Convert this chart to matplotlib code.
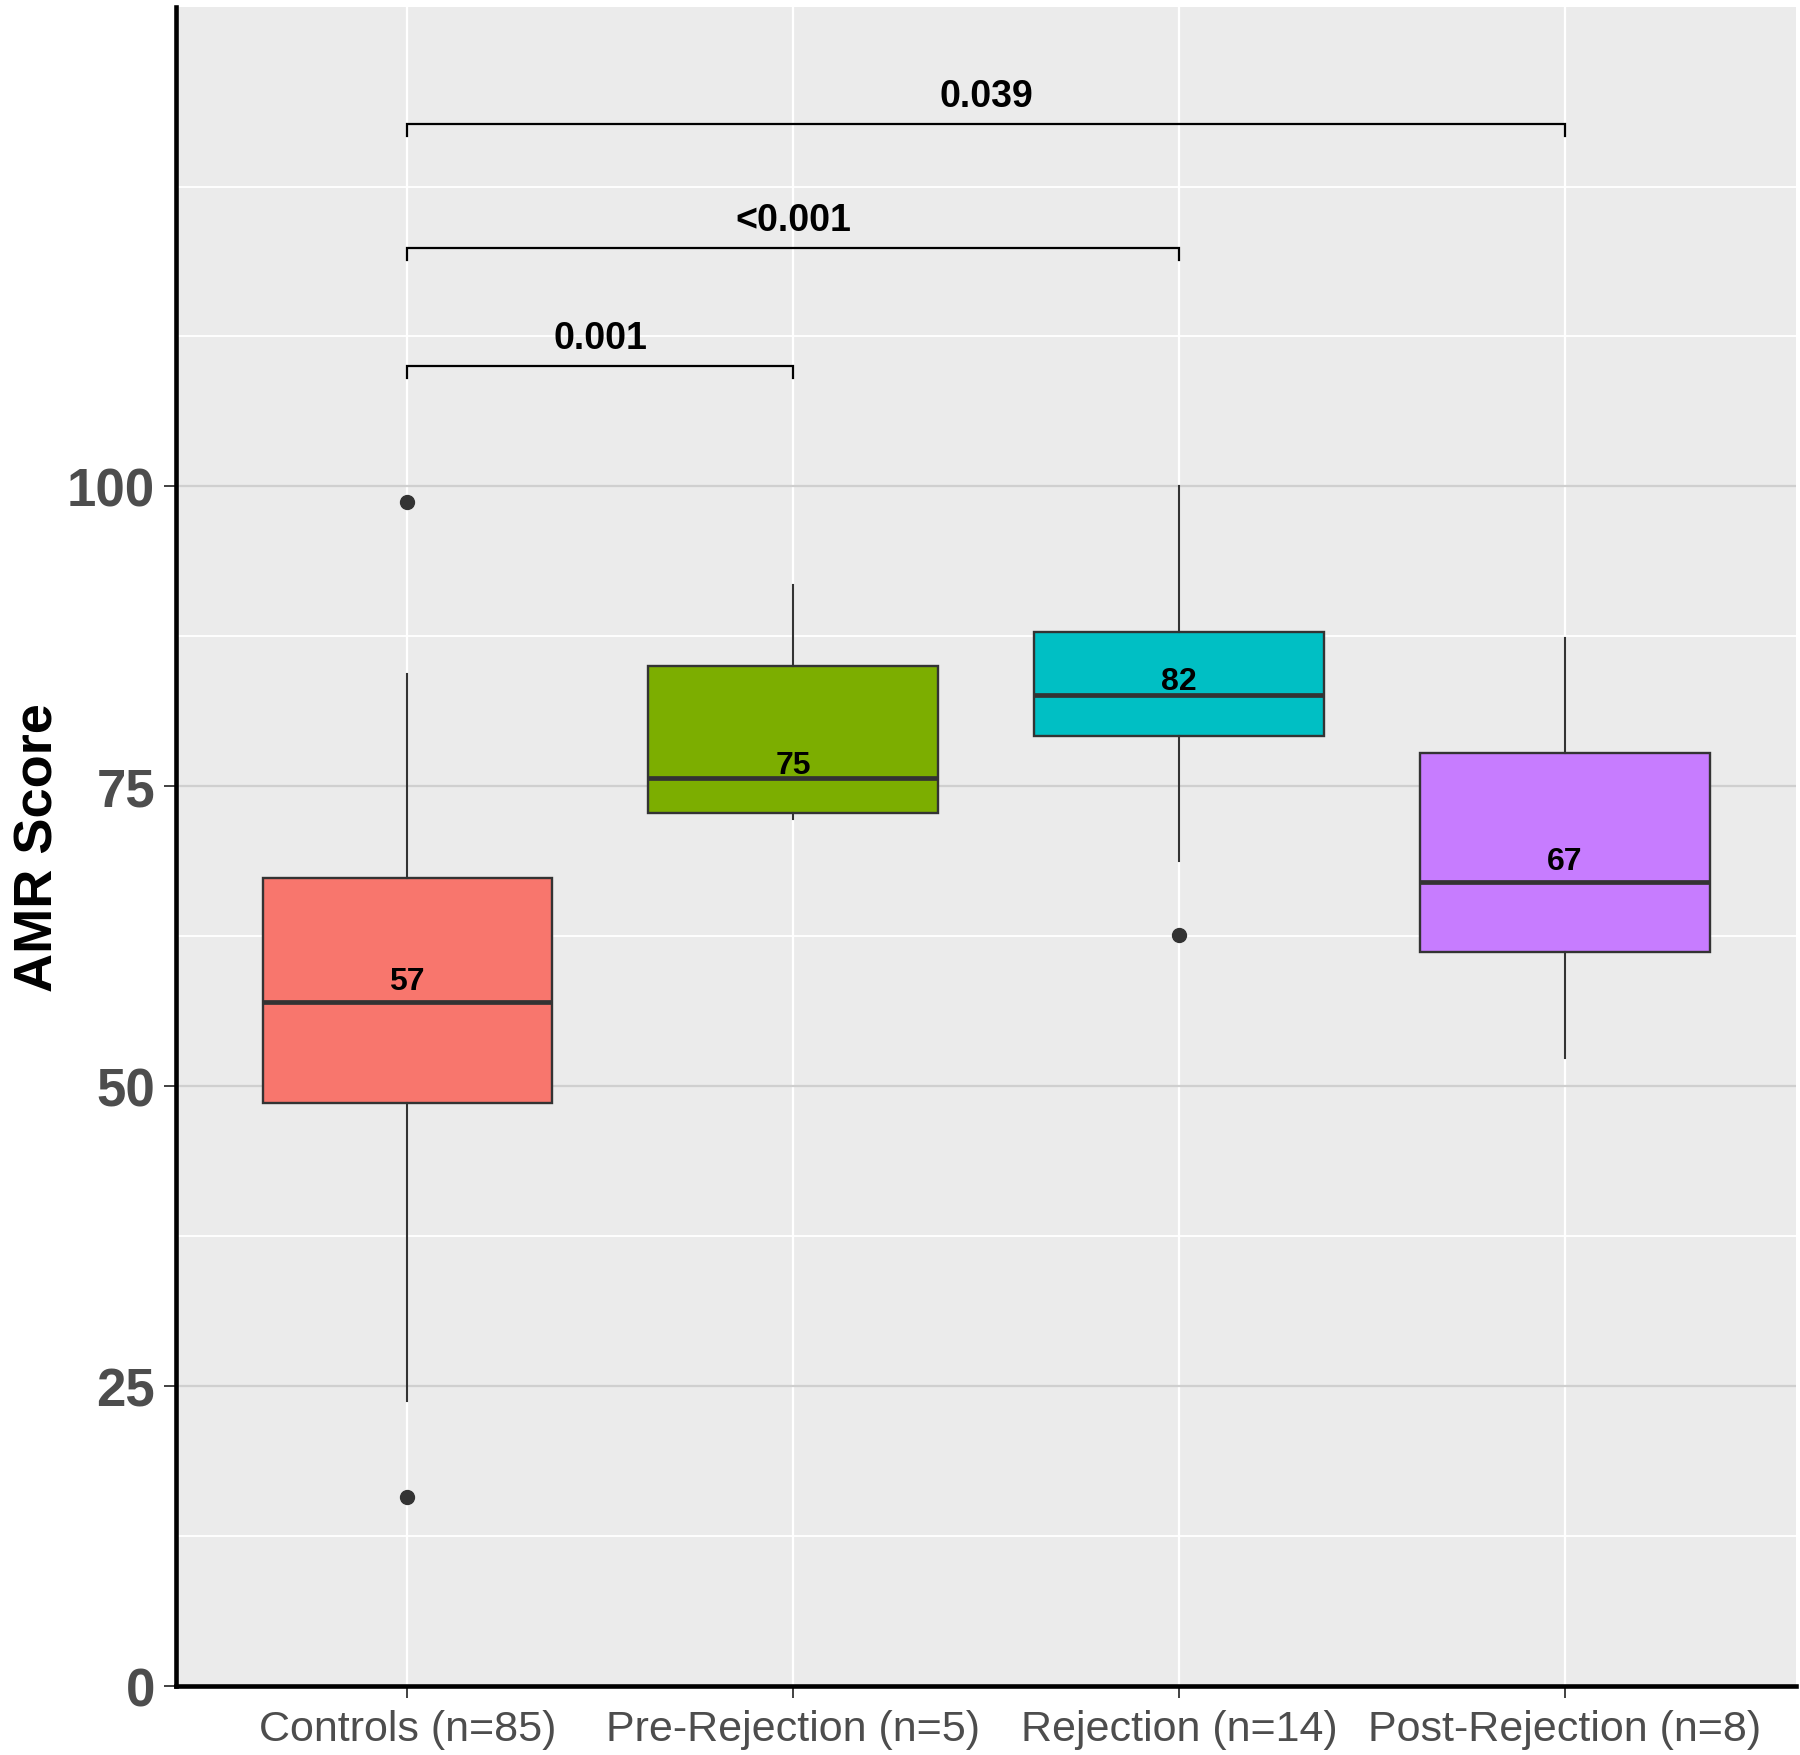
import matplotlib
matplotlib.use("Agg")
import matplotlib.pyplot as plt

# groups and box statistics
groups = ["Controls (n=85)", "Pre-Rejection (n=5)", "Rejection (n=14)", "Post-Rejection (n=8)"]
colors = ["#F8766D", "#7CAE00", "#00BFC4", "#C77CFF"]
whisker_low = [23.8, 72.3, 68.8, 52.4]
q1 = [48.6, 72.8, 79.2, 61.2]
medians = [57.0, 75.7, 82.6, 67.0]
q3 = [67.4, 85.0, 87.9, 77.8]
whisker_high = [84.4, 91.8, 100.0, 87.4]
outliers = [[98.7, 15.8], [], [62.6], []]
median_labels = ["57", "75", "82", "67"]

# pairwise comparisons: (group a, group b, bracket height, p label)
comp_a = [1, 1, 1]
comp_b = [2, 3, 4]
comp_y = [110.0, 119.9, 130.2]
comp_p = ["0.001", "<0.001", "0.039"]

yticks = [0, 25, 50, 75, 100]
yminor = [12.5, 37.5, 62.5, 87.5, 112.5, 125]

plt.rcParams["font.family"] = ["Liberation Sans", "DejaVu Sans"]

fig = plt.figure(figsize=(18, 17.56), dpi=100)
ax = fig.add_axes([0.0976, 0.0392, 0.9004, 0.9565])
ax.set_facecolor("#EBEBEB")

stats = []
for i in range(len(groups)):
    stats.append(dict(med=medians[i], q1=q1[i], q3=q3[i], whislo=whisker_low[i],
                      whishi=whisker_high[i], fliers=outliers[i]))
pos = list(range(1, len(groups) + 1))
bp = ax.bxp(stats, positions=pos, widths=0.75, patch_artist=True, showcaps=False,
            boxprops=dict(edgecolor="#333333", linewidth=1.7),
            medianprops=dict(color="#333333", linewidth=3.4),
            whiskerprops=dict(color="#333333", linewidth=1.5),
            flierprops=dict(marker="o", markersize=10, markerfacecolor="#333333",
                            markeredgecolor="#333333"))
for patch, c in zip(bp["boxes"], colors):
    patch.set_facecolor(c)
for artist in bp["boxes"] + bp["medians"] + bp["whiskers"] + bp["fliers"]:
    artist.set_zorder(3)

for p, lab in zip(pos, median_labels):
    ax.text(p, int(lab) + 1.1, lab, ha="center", va="baseline", fontsize=23,
            fontweight="bold", color="black", zorder=4)

for a, b, y, lab in zip(comp_a, comp_b, comp_y, comp_p):
    ax.plot([a, a, b, b], [y - 1.0, y, y, y - 1.0], color="black", lw=1.6,
            solid_joinstyle="miter", zorder=4)
    ax.text((a + b) / 2, y + 1.5, lab, ha="center", va="baseline", fontsize=27,
            fontweight="bold", color="black", zorder=4)

ax.set_xlim(0.4, 4.6)
ax.set_ylim(0, 140)
ax.set_xticks(pos)
ax.set_xticklabels(groups)
ax.set_yticks(yticks)
ax.set_yticks(yminor, minor=True)

# gridlines: grey major y, white minor y, white vertical
ax.grid(axis="y", which="major", color="#CFCFCF", lw=1.6, zorder=1)
ax.grid(axis="y", which="minor", color="white", lw=1.3, zorder=1)
ax.grid(axis="x", which="major", color="white", lw=1.6, zorder=1)
ax.set_axisbelow(True)

for s in ["top", "right"]:
    ax.spines[s].set_visible(False)
for s in ["left", "bottom"]:
    ax.spines[s].set_color("black")
    ax.spines[s].set_linewidth(3.3)
    ax.spines[s].set_zorder(5)

ax.tick_params(axis="y", which="minor", length=0)
ax.tick_params(axis="both", which="major", length=8.3, width=1.3, color="#333333")
ax.tick_params(axis="y", which="major", pad=6.5, labelsize=38, labelcolor="#4D4D4D")
ax.tick_params(axis="x", which="major", pad=8, labelsize=31, labelcolor="#4D4D4D")
for t in ax.get_yticklabels():
    t.set_fontweight("bold")

ax.set_ylabel("AMR Score", fontsize=39, fontweight="bold", color="black")
ax.yaxis.set_label_coords(-0.069, 0.5)

fig.savefig("out.png", dpi=100, facecolor="white")
